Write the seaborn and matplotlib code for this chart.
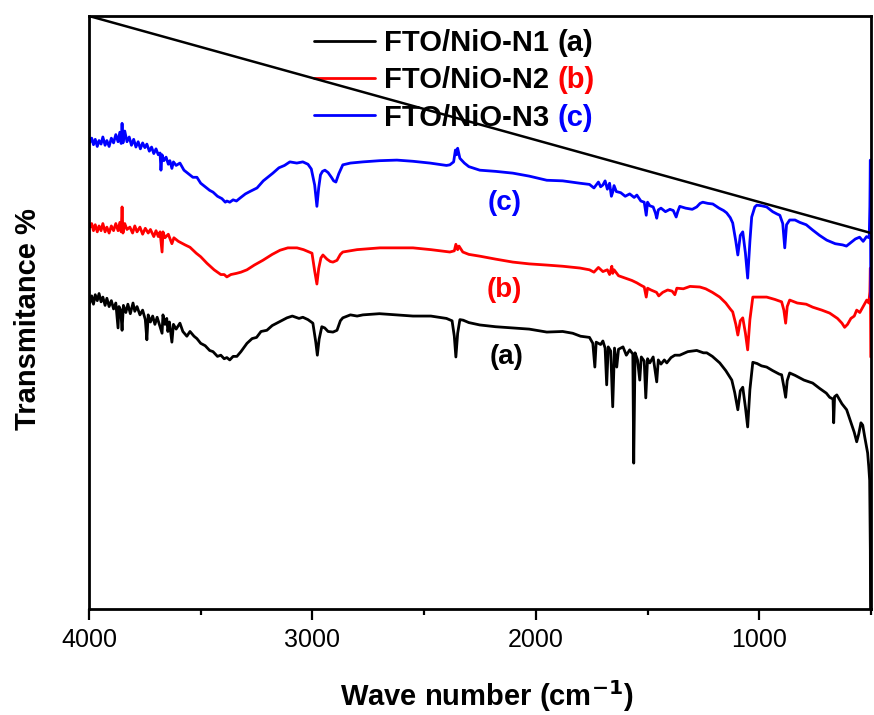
import matplotlib
matplotlib.use("Agg")
import matplotlib.pyplot as plt
import seaborn as sns
import pandas as pd

# ---- FTIR spectra: wavenumber (cm-1) and transmittance (%) ----
wn_n1 = [3996, 3988, 3980, 3972, 3963, 3955, 3946, 3938, 3928, 3920, 3910, 3900, 3890, 3880,
         3870, 3866, 3858, 3852, 3846, 3835, 3826, 3815, 3803, 3795, 3785, 3772, 3760, 3748,
         3741, 3735, 3725, 3715, 3705, 3695, 3682, 3673, 3669, 3660, 3652, 3647, 3640, 3629,
         3622, 3610, 3593, 3580, 3562, 3548, 3530, 3517, 3500, 3480, 3460, 3445, 3425, 3410,
         3395, 3383, 3370, 3355, 3338, 3320, 3293, 3270, 3250, 3230, 3204, 3180, 3150, 3114,
         3090, 3060, 3043, 3020, 2998, 2985, 2978, 2970, 2958, 2945, 2930, 2908, 2890, 2875,
         2864, 2830, 2800, 2774, 2700, 2622, 2550, 2470, 2400, 2375, 2365, 2358, 2350, 2340,
         2325, 2300, 2251, 2180, 2103, 2030, 1951, 1880, 1835, 1800, 1760, 1745, 1736, 1730,
         1710, 1700, 1690, 1683, 1676, 1665, 1656, 1648, 1638, 1630, 1610, 1595, 1580, 1566,
         1562, 1556, 1545, 1535, 1528, 1515, 1508, 1500, 1490, 1475, 1459, 1452, 1440, 1425,
         1414, 1395, 1378, 1356, 1320, 1280, 1250, 1235, 1210, 1177, 1150, 1123, 1110, 1096,
         1085, 1074, 1062, 1052, 1042, 1029, 1010, 990, 967, 940, 910, 900, 890, 882, 875, 864,
         840, 800, 761, 730, 700, 685, 670, 667, 663, 653, 630, 609, 590, 575, 564, 555, 545,
         537, 528, 520, 515, 510, 506, 503, 502]
t_n1 = [51.6, 52.8, 51.4, 53.0, 52.0, 53.2, 51.8, 52.6, 51.2, 52.4, 51.0, 52.0, 50.6, 51.6,
        47.4, 51.0, 50.4, 47.0, 51.2, 50.0, 51.4, 49.8, 51.6, 50.2, 51.0, 49.6, 50.4, 48.8,
        45.4, 49.6, 48.4, 49.4, 48.0, 49.2, 47.6, 46.5, 49.6, 48.0, 49.0, 46.8, 48.4, 45.0,
        48.0, 47.2, 48.2, 46.8, 46.0, 46.8, 46.0, 45.6, 44.8, 44.4, 43.6, 43.4, 42.6, 42.8,
        42.2, 42.4, 42.0, 42.6, 42.6, 43.4, 44.8, 45.6, 45.8, 46.8, 47.0, 47.8, 48.4, 49.1,
        49.4, 49.0, 49.2, 48.8, 48.2, 45.0, 42.8, 45.5, 47.6, 47.4, 46.8, 46.7, 47.0, 48.6,
        49.1, 49.6, 49.4, 49.6, 49.8, 49.6, 49.4, 49.4, 49.0, 48.6, 46.0, 42.5, 46.5, 48.8,
        48.7, 48.3, 47.9, 47.6, 47.4, 47.2, 46.7, 46.8, 46.5, 46.0, 45.8, 44.8, 40.8, 45.0,
        44.6, 45.2, 44.0, 37.8, 44.2, 43.5, 34.1, 44.0, 40.8, 43.8, 44.2, 42.8, 43.7, 43.0,
        24.6, 43.2, 42.0, 38.6, 42.5, 41.8, 35.6, 42.2, 41.5, 42.5, 38.3, 42.0, 41.3, 42.0,
        41.5, 42.4, 42.8, 42.8, 43.4, 43.6, 43.2, 43.2, 42.6, 41.5, 40.2, 38.6, 36.5, 33.6,
        36.8, 37.4, 34.0, 30.7, 37.0, 41.6, 41.4, 41.0, 40.8, 40.2, 39.6, 39.5, 37.5, 35.7, 38.5, 39.8,
        39.4, 38.6, 38.1, 37.2, 36.4, 35.7, 35.4, 31.4, 35.8, 36.1, 34.6, 33.6, 31.5, 29.8, 28.2, 29.5, 31.4,
        31.0, 29.0, 27.4, 26.3, 24.0, 21.7, 10.0, -2.0]

wn_n2 = [3996, 3988, 3980, 3972, 3963, 3955, 3946, 3938, 3928, 3920, 3910, 3900, 3890, 3880,
         3870, 3862, 3856, 3852, 3848, 3840, 3830, 3817, 3805, 3795, 3785, 3772, 3760, 3748,
         3735, 3725, 3710, 3700, 3690, 3682, 3673, 3669, 3660, 3645, 3629, 3620, 3600, 3570,
         3548, 3520, 3500, 3472, 3440, 3410, 3395, 3383, 3365, 3340, 3320, 3293, 3260, 3222,
         3180, 3145, 3110, 3069, 3040, 3015, 3002, 2990, 2980, 2972, 2962, 2953, 2935, 2920,
         2908, 2890, 2875, 2864, 2800, 2698, 2620, 2550, 2470, 2385, 2365, 2358, 2350, 2344,
         2327, 2300, 2251, 2180, 2103, 2030, 1951, 1880, 1803, 1760, 1740, 1720, 1700, 1680,
         1670, 1660, 1656, 1650, 1630, 1600, 1570, 1548, 1530, 1515, 1506, 1500, 1485, 1460,
         1450, 1432, 1410, 1390, 1378, 1369, 1340, 1310, 1266, 1240, 1210, 1177, 1150, 1130,
         1119, 1105, 1096, 1085, 1074, 1062, 1052, 1042, 1029, 1000, 967, 930, 900, 890, 882,
         875, 864, 830, 790, 761, 720, 685, 650, 630, 618, 605, 590, 575, 564, 550, 535, 519,
         510, 505, 503, 501]
t_n2 = [64.4, 65.0, 63.8, 64.8, 63.6, 64.6, 63.8, 65.0, 63.6, 64.4, 63.4, 64.6, 63.8, 65.0,
        63.8, 65.2, 63.6, 67.8, 63.4, 65.0, 64.0, 64.4, 63.4, 64.6, 63.6, 64.4, 63.2, 64.2,
        63.4, 64.0, 62.8, 63.8, 62.8, 63.6, 60.2, 63.6, 62.6, 63.2, 61.6, 62.6, 62.0, 61.4,
        61.0, 60.0, 59.4, 58.3, 57.2, 56.4, 56.4, 56.0, 56.4, 56.6, 56.8, 57.2, 58.0, 58.8,
        59.8, 60.5, 60.9, 60.9, 60.6, 60.2, 60.0, 57.0, 54.8, 57.4, 59.2, 59.7, 59.0, 58.6,
        58.5, 58.8, 59.8, 60.2, 60.6, 60.9, 60.9, 60.9, 60.6, 60.2, 60.4, 61.5, 60.6, 61.2,
        60.2, 59.8, 59.5, 59.0, 58.5, 58.2, 58.0, 57.8, 57.5, 57.2, 56.8, 57.6, 56.9, 57.2,
        56.4, 57.8, 56.6, 57.2, 56.2, 55.8, 55.4, 55.0, 54.6, 54.3, 52.6, 54.1, 53.8, 53.4,
        52.8, 53.4, 53.8, 53.6, 53.0, 54.1, 54.0, 54.4, 54.3, 54.0, 53.4, 52.6, 51.6, 50.6,
        50.1, 48.0, 46.2, 48.6, 49.1, 46.5, 43.7, 48.8, 52.6, 52.6, 52.6, 52.2, 51.8, 50.4, 48.2,
        51.0, 52.1, 51.6, 51.4, 50.9, 50.4, 49.9, 49.0, 48.2, 47.5, 48.0, 49.0, 49.4, 50.4, 50.0, 51.0, 52.1,
        51.6, 53.5, 57.5, 42.5]

wn_n3 = [3996, 3988, 3980, 3972, 3963, 3955, 3946, 3938, 3928, 3920, 3910, 3900, 3890, 3880,
         3870, 3862, 3856, 3852, 3848, 3840, 3830, 3820, 3810, 3800, 3790, 3780, 3770, 3760,
         3750, 3741, 3730, 3720, 3710, 3700, 3690, 3682, 3678, 3673, 3665, 3655, 3645, 3638,
         3629, 3622, 3610, 3593, 3575, 3555, 3535, 3517, 3500, 3480, 3460, 3445, 3425, 3405,
         3390, 3383, 3370, 3355, 3340, 3324, 3300, 3280, 3248, 3220, 3200, 3177, 3150, 3125,
         3101, 3070, 3043, 3020, 3005, 2990, 2980, 2972, 2964, 2955, 2944, 2930, 2915, 2905,
         2895, 2882, 2864, 2830, 2774, 2700, 2622, 2550, 2474, 2400, 2385, 2368, 2360, 2355,
         2350, 2340, 2320, 2300, 2251, 2180, 2103, 2030, 1951, 1880, 1803, 1760, 1740, 1720,
         1710, 1700, 1690, 1680, 1670, 1662, 1656, 1650, 1640, 1620, 1600, 1580, 1560, 1548,
         1530, 1515, 1506, 1500, 1490, 1475, 1465, 1459, 1452, 1440, 1420, 1400, 1385, 1378,
         1372, 1365, 1356, 1330, 1300, 1280, 1265, 1253, 1230, 1208, 1180, 1160, 1146, 1130,
         1119, 1105, 1096, 1085, 1074, 1062, 1052, 1042, 1034, 1020, 1011, 990, 967, 940, 920,
         908, 895, 886, 878, 864, 840, 819, 790, 761, 730, 698, 660, 627, 610, 590, 570, 551,
         535, 520, 508, 505, 503, 501]
t_n3 = [78.7, 79.4, 78.3, 79.2, 78.0, 79.0, 78.4, 79.6, 78.2, 79.0, 78.0, 79.4, 78.6, 80.0,
        78.8, 80.4, 78.5, 81.9, 78.6, 80.6, 78.8, 79.6, 78.2, 79.2, 77.9, 78.8, 77.6, 78.6,
        77.8, 78.4, 77.2, 77.9, 76.8, 77.6, 76.6, 76.9, 74.0, 76.6, 75.6, 76.2, 75.0, 75.6,
        74.3, 75.4, 74.8, 75.2, 74.0, 73.4, 72.8, 72.8, 71.8, 71.2, 70.6, 70.3, 69.6, 69.2,
        68.6, 68.8, 68.6, 69.0, 68.8, 69.3, 70.0, 70.4, 71.0, 72.2, 72.8, 73.5, 74.4, 74.8,
        75.4, 75.2, 75.4, 75.0, 74.2, 71.5, 67.9, 71.0, 73.2, 73.8, 74.0, 73.6, 72.8, 72.2,
        72.0, 73.4, 74.9, 75.2, 75.4, 75.6, 75.7, 75.5, 75.2, 74.8, 74.9, 75.4, 77.4, 76.6,
        77.7, 76.0, 75.2, 74.6, 74.0, 73.8, 73.5, 73.0, 72.3, 72.2, 71.8, 71.6, 71.0, 72.0,
        71.2, 71.5, 72.2, 70.8, 71.8, 69.6, 70.3, 71.4, 70.4, 70.2, 69.6, 70.0, 69.4, 69.8,
        68.8, 68.6, 66.4, 68.6, 68.0, 67.8, 66.8, 65.9, 67.3, 67.6, 67.0, 67.4, 67.2, 66.6,
        66.1, 67.0, 67.9, 67.6, 67.4, 67.8, 68.4, 68.6, 68.4, 68.3, 67.6, 67.2, 66.8, 66.0,
        65.1, 62.0, 59.7, 63.0, 63.6, 60.0, 55.8, 62.0, 66.1, 67.8, 68.1, 68.0, 67.8, 67.0, 66.6,
        66.4, 65.0, 60.9, 64.8, 65.6, 65.6, 65.2, 64.8, 63.9, 63.0, 62.2, 61.6, 61.4, 61.2, 61.8, 62.4, 62.7,
        62.0, 62.8, 62.6, 67.9, 75.7, 52.6]

# straight reference line across the plot
ref_wn = [4000, 500]
ref_t = [100.0, 63.4]

series_names = ["FTO/NiO-N1", "FTO/NiO-N2", "FTO/NiO-N3"]
series_tags = ["(a)", "(b)", "(c)"]
series_colors = ["#000000", "#ff0000", "#0000ff"]
tag_pos_wn = [2130, 2139, 2139]
tag_pos_t = [42.5, 53.8, 68.5]

x_major = [4000, 3000, 2000, 1000]
x_minor = [3500, 2500, 1500, 500]

sns.set_theme(style="ticks")
plt.rcParams["font.family"] = ["Liberation Sans", "DejaVu Sans"]
plt.rcParams["text.color"] = "black"
plt.rcParams["axes.labelcolor"] = "black"
plt.rcParams["xtick.color"] = "black"
plt.rcParams["ytick.color"] = "black"
plt.rcParams["legend.labelcolor"] = "black"

fig = plt.figure(figsize=(8.74, 7.15), dpi=100)
ax = fig.add_axes([89 / 874, 1 - 609 / 715, 782 / 874, 593 / 715])

spectra = [(wn_n1, t_n1), (wn_n2, t_n2), (wn_n3, t_n3)]
for (wn, tv), name, col in zip(spectra, series_names, series_colors):
    df = pd.DataFrame({"wn": wn, "T": tv})
    sns.lineplot(data=df, x="wn", y="T", ax=ax, color=col, linewidth=2.0,
                 estimator=None, sort=False, label=name, legend=False)

ax.plot(ref_wn, ref_t, color="black", linewidth=1.8, zorder=6)

ax.set_xlim(4000, 500)
ax.set_ylim(0, 100)
ax.set_xticks(x_major)
ax.set_xticks(x_minor, minor=True)
ax.set_xticklabels([str(v) for v in x_major])
ax.set_yticks([])

for side in ["left", "right", "top", "bottom"]:
    ax.spines[side].set_visible(True)
    ax.spines[side].set_linewidth(2.0)
    ax.spines[side].set_color("black")

ax.tick_params(axis="x", which="major", direction="out", length=8, width=1.6,
               labelsize=18, pad=6, colors="black")
ax.tick_params(axis="x", which="minor", direction="out", length=4, width=1.6,
               colors="black")

ax.set_xlabel("Wave number (cm$^{\\mathbf{-1}}$)", fontsize=21, fontweight="bold",
              color="black")
ax.set_ylabel("Transmitance %", fontsize=21, fontweight="bold", color="black")
ax.xaxis.set_label_coords((487 - 89) / 782, (609 - 678) / 593)
ax.yaxis.set_label_coords((28 - 89) / 782, (609 - 319) / 593)
ax.xaxis.label.set_va("top")
ax.yaxis.label.set_va("center")

for tag, col, xw, yt in zip(series_tags, series_colors, tag_pos_wn, tag_pos_t):
    ax.text(xw, yt, tag, color=col, fontsize=20, fontweight="bold",
            ha="center", va="center")

handles = ax.lines[:3]
leg = ax.legend(handles, series_names, loc="upper left",
                bbox_to_anchor=((314 - 89) / 782, (609 - 29) / 593),
                frameon=False, borderpad=0, borderaxespad=0, labelspacing=0.32,
                handlelength=2.1, handletextpad=0.31,
                prop={"size": 21, "weight": "bold"}, labelcolor="black")
leg.set_zorder(5)
# coloured sample tags after each legend entry, drawn after the legend is laid out
for txt, tag, col in zip(leg.get_texts(), series_tags, series_colors):
    ax.annotate(tag, xy=(1, 0), xycoords=txt, xytext=(5.8, 0),
                textcoords="offset points", ha="left", va="bottom",
                color=col, fontsize=21, fontweight="bold", zorder=10)

fig.savefig("out.png", dpi=100)
